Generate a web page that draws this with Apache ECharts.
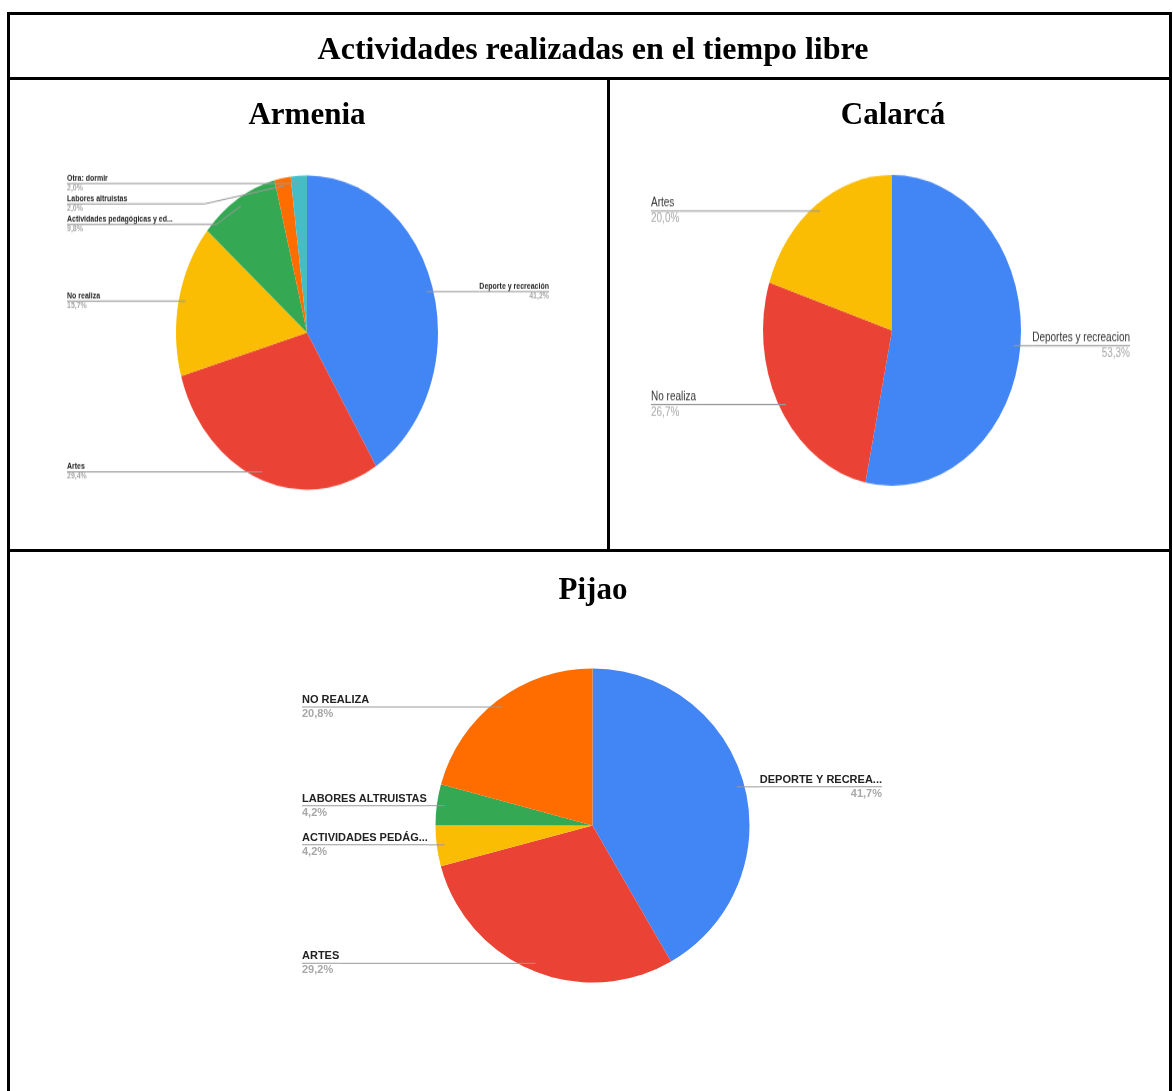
<!DOCTYPE html>
<html>
<head>
<meta charset="utf-8">
<script src="https://cdn.jsdelivr.net/npm/echarts@6/dist/echarts.min.js"></script>
<style>
  html, body { margin: 0; padding: 0; background: #fff; }
  #main { position: absolute; left: 0; top: 0; width: 1173px; height: 1091px; }
  #armenia { position: absolute; left: 10px; top: 140px; width: 596px; height: 340px; transform: scale(1, 1.2); transform-origin: 0 0; }
  #calarca { position: absolute; left: 611px; top: 140px; width: 559px; height: 340px; transform: scale(1, 1.205); transform-origin: 0 0; }
</style>
</head>
<body>
<div id="main"></div>
<div id="armenia"></div>
<div id="calarca"></div>
<script>
// ---- Data ----
const mainTitle = 'Actividades realizadas en el tiempo libre';
const panelTitles = ['Armenia', 'Calarcá', 'Pijao'];

const armeniaCategories = ['Deporte y recreación', 'Artes', 'No realiza', 'Actividades pedagógicas y ed...', 'Labores altruistas', 'Otra: dormir'];
const armeniaValues = [41.2, 29.4, 15.7, 9.8, 2.0, 2.0];

const calarcaCategories = ['Deportes y recreacion', 'No realiza', 'Artes'];
const calarcaValues = [53.3, 26.7, 20.0];

const pijaoCategories = ['DEPORTE Y RECREA...', 'ARTES', 'ACTIVIDADES PEDÁG...', 'LABORES ALTRUISTAS', 'NO REALIZA'];
const pijaoValues = [41.7, 29.2, 4.2, 4.2, 20.8];

// ---- Styles ----
const C = { blue: '#4285F4', red: '#EA4335', yellow: '#FBBC04', green: '#34A853', orange: '#FF6D01', teal: '#46BDC6' };
const armeniaColors = [C.blue, C.red, C.yellow, C.green, C.orange, C.teal];
const calarcaColors = [C.blue, C.red, C.yellow];
const pijaoColors = [C.blue, C.red, C.yellow, C.green, C.orange];

function fmtPct(v) { return v.toFixed(1).replace('.', ',') + '%'; }

// visible slices + a transparent label carrier slightly inside the rim (Google-style label anchors)
function pieSeries(cats, vals, colors, opts) {
  const base = {
    type: 'pie',
    left: opts.left || 0, top: 0, width: opts.width, height: opts.height,
    center: opts.center,
    startAngle: 90,
    clockwise: true,
    animation: false,
    silent: true
  };
  const slices = Object.assign({}, base, {
    radius: opts.radius,
    z: 2,
    data: vals.map((v, i) => ({ name: cats[i], value: v, itemStyle: { color: colors[i] } })),
    itemStyle: { borderWidth: 0 },
    label: { show: false },
    labelLine: { show: false }
  });
  const labels = Object.assign({}, base, {
    radius: opts.radius * 0.95,
    z: 3,
    avoidLabelOverlap: true,
    data: vals.map((v, i) => ({ name: cats[i], value: v, itemStyle: { color: 'rgba(0,0,0,0)' } })),
    itemStyle: { borderWidth: 0 },
    label: {
      show: true,
      position: 'outer',
      alignTo: 'edge',
      edgeDistance: opts.edge,
      distanceToLabelLine: 0,
      formatter: p => '{n|' + p.name + '}\n{u|}\n{p|' + fmtPct(p.value) + '}',
      rich: {
        n: { fontFamily: 'Liberation Sans, Arial', fontSize: opts.fs, fontWeight: opts.bold ? 'bold' : 'normal', color: opts.nameColor, lineHeight: opts.lh, padding: [0, 0, opts.pad, 0] },
        u: { width: '100%', height: 1, lineHeight: 1, backgroundColor: '#9a9a9a' },
        p: { fontFamily: 'Liberation Sans, Arial', fontSize: opts.fs, fontWeight: opts.bold ? 'bold' : 'normal', color: '#a8a8a8', lineHeight: opts.lh, padding: [opts.pad, 0, 0, 0] }
      }
    },
    labelLine: { show: true, length: 0, length2: 10, lineStyle: { color: '#9a9a9a', width: 1 } }
  });
  return [slices, labels];
}

// ---- Main chart: frame, titles and Pijao ----
const main = echarts.init(document.getElementById('main'), null, { renderer: 'canvas' });
const black = { stroke: '#000', lineWidth: 3 };
function line(x1, y1, x2, y2) { return { type: 'line', shape: { x1, y1, x2, y2 }, style: black, silent: true }; }
function serif(text, x, y, size) {
  return { type: 'text', x, y, style: { text, fill: '#000', font: 'bold ' + size + 'px "Liberation Serif", "Times New Roman", serif', textAlign: 'center', textVerticalAlign: 'middle' }, silent: true };
}
main.setOption({
  animation: false,
  graphic: [
    line(8.5, 12, 8.5, 1091),
    line(1170.5, 12, 1170.5, 1091),
    line(7, 13.5, 1172, 13.5),
    line(7, 78.5, 1172, 78.5),
    line(608.5, 78, 608.5, 552),
    line(7, 550.5, 1172, 550.5),
    serif(mainTitle, 593, 51, 32),
    serif(panelTitles[0], 307, 116, 31),
    serif(panelTitles[1], 893, 116, 31),
    serif(panelTitles[2], 593, 591, 31)
  ],
  series: pieSeries(pijaoCategories, pijaoValues, pijaoColors, {
    left: 282, width: 620, height: 1091, center: [310.5, 825.5], radius: 157,
    edge: 20, fs: 11, lh: 12, pad: 1, bold: true, nameColor: '#222'
  })
});

// ---- Armenia ----
const arm = echarts.init(document.getElementById('armenia'));
arm.setOption({
  animation: false,
  series: pieSeries(armeniaCategories, armeniaValues, armeniaColors, {
    left: 0, width: 596, height: 340, center: [297, 160.4], radius: 131,
    edge: 57, fs: 7, lh: 7, pad: 0, bold: true, nameColor: '#222'
  })
});

// ---- Calarcá ----
const cal = echarts.init(document.getElementById('calarca'));
cal.setOption({
  animation: false,
  series: pieSeries(calarcaCategories, calarcaValues, calarcaColors, {
    left: 0, width: 559, height: 340, center: [281, 158.1], radius: 129,
    edge: 40, fs: 10, lh: 11, pad: 1, bold: false, nameColor: '#333'
  })
});
</script>
</body>
</html>
